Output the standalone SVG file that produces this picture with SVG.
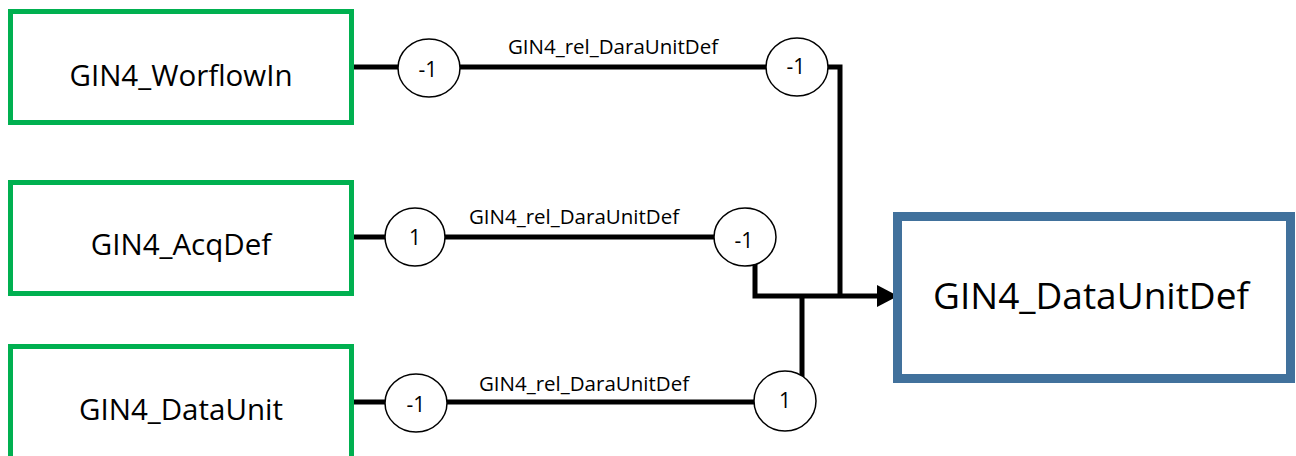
<svg xmlns="http://www.w3.org/2000/svg" width="1296" height="456" viewBox="0 0 1296 456">
<style>
.src rect{fill:#fff;stroke:#00b050;stroke-width:5}
.tgt rect{fill:#fff;stroke:#41719c;stroke-width:9}
.lbl{font-family:"Open Sans","Noto Sans",sans-serif;fill:#000;text-anchor:middle;dominant-baseline:central}
.node{font-size:29.5px}
.big{font-size:37px}
.rel{font-size:20.5px}
.num{font-size:21px}
.wire{fill:none;stroke:#000;stroke-width:5}
.head{fill:#000}
.card ellipse{fill:#fff;stroke:#000;stroke-width:1.5}
</style>
<g id="connectors">
<path class="wire" d="M354,67 H826 M828,67 H840 V296"/>
<path class="wire" d="M354,237 H745 M755,255 V296 H880"/>
<polygon class="head" points="877,285 898,296 877,307"/>
<path class="wire" d="M354,402 H785 M802,296 V380"/>
<text class="lbl rel" x="613" y="46">GIN4_rel_DaraUnitDef</text>
<text class="lbl rel" x="574" y="216">GIN4_rel_DaraUnitDef</text>
<text class="lbl rel" x="584" y="383">GIN4_rel_DaraUnitDef</text>
</g>
<g class="card" id="card-1a"><ellipse cx="429" cy="68" rx="31" ry="29"/><text class="lbl num" x="428" y="69">-1</text></g>
<g class="card" id="card-1b"><ellipse cx="797" cy="67" rx="31" ry="29"/><text class="lbl num" x="796" y="66">-1</text></g>
<g class="card" id="card-2a"><ellipse cx="415" cy="237" rx="30" ry="29"/><text class="lbl num" x="415" y="237">1</text></g>
<g class="card" id="card-2b"><ellipse cx="745" cy="237" rx="31" ry="29"/><text class="lbl num" x="744" y="240">-1</text></g>
<g class="card" id="card-3a"><ellipse cx="416" cy="403" rx="31" ry="29"/><text class="lbl num" x="416" y="404">-1</text></g>
<g class="card" id="card-3b"><ellipse cx="785" cy="401" rx="31" ry="30"/><text class="lbl num" x="785" y="400">1</text></g>
<g class="src" id="GIN4_WorflowIn"><rect x="10.5" y="11.5" width="341" height="111"/><text class="lbl node" x="181" y="74">GIN4_WorflowIn</text></g>
<g class="src" id="GIN4_AcqDef"><rect x="10.5" y="182.5" width="341" height="111"/><text class="lbl node" x="181" y="243">GIN4_AcqDef</text></g>
<g class="src" id="GIN4_DataUnit"><rect x="10.5" y="346.5" width="341" height="120"/><text class="lbl node" x="181" y="408">GIN4_DataUnit</text></g>
<g class="tgt" id="GIN4_DataUnitDef"><rect x="897.5" y="216.5" width="393" height="162"/><text class="lbl big" x="1091" y="294">GIN4_DataUnitDef</text></g>
</svg>
